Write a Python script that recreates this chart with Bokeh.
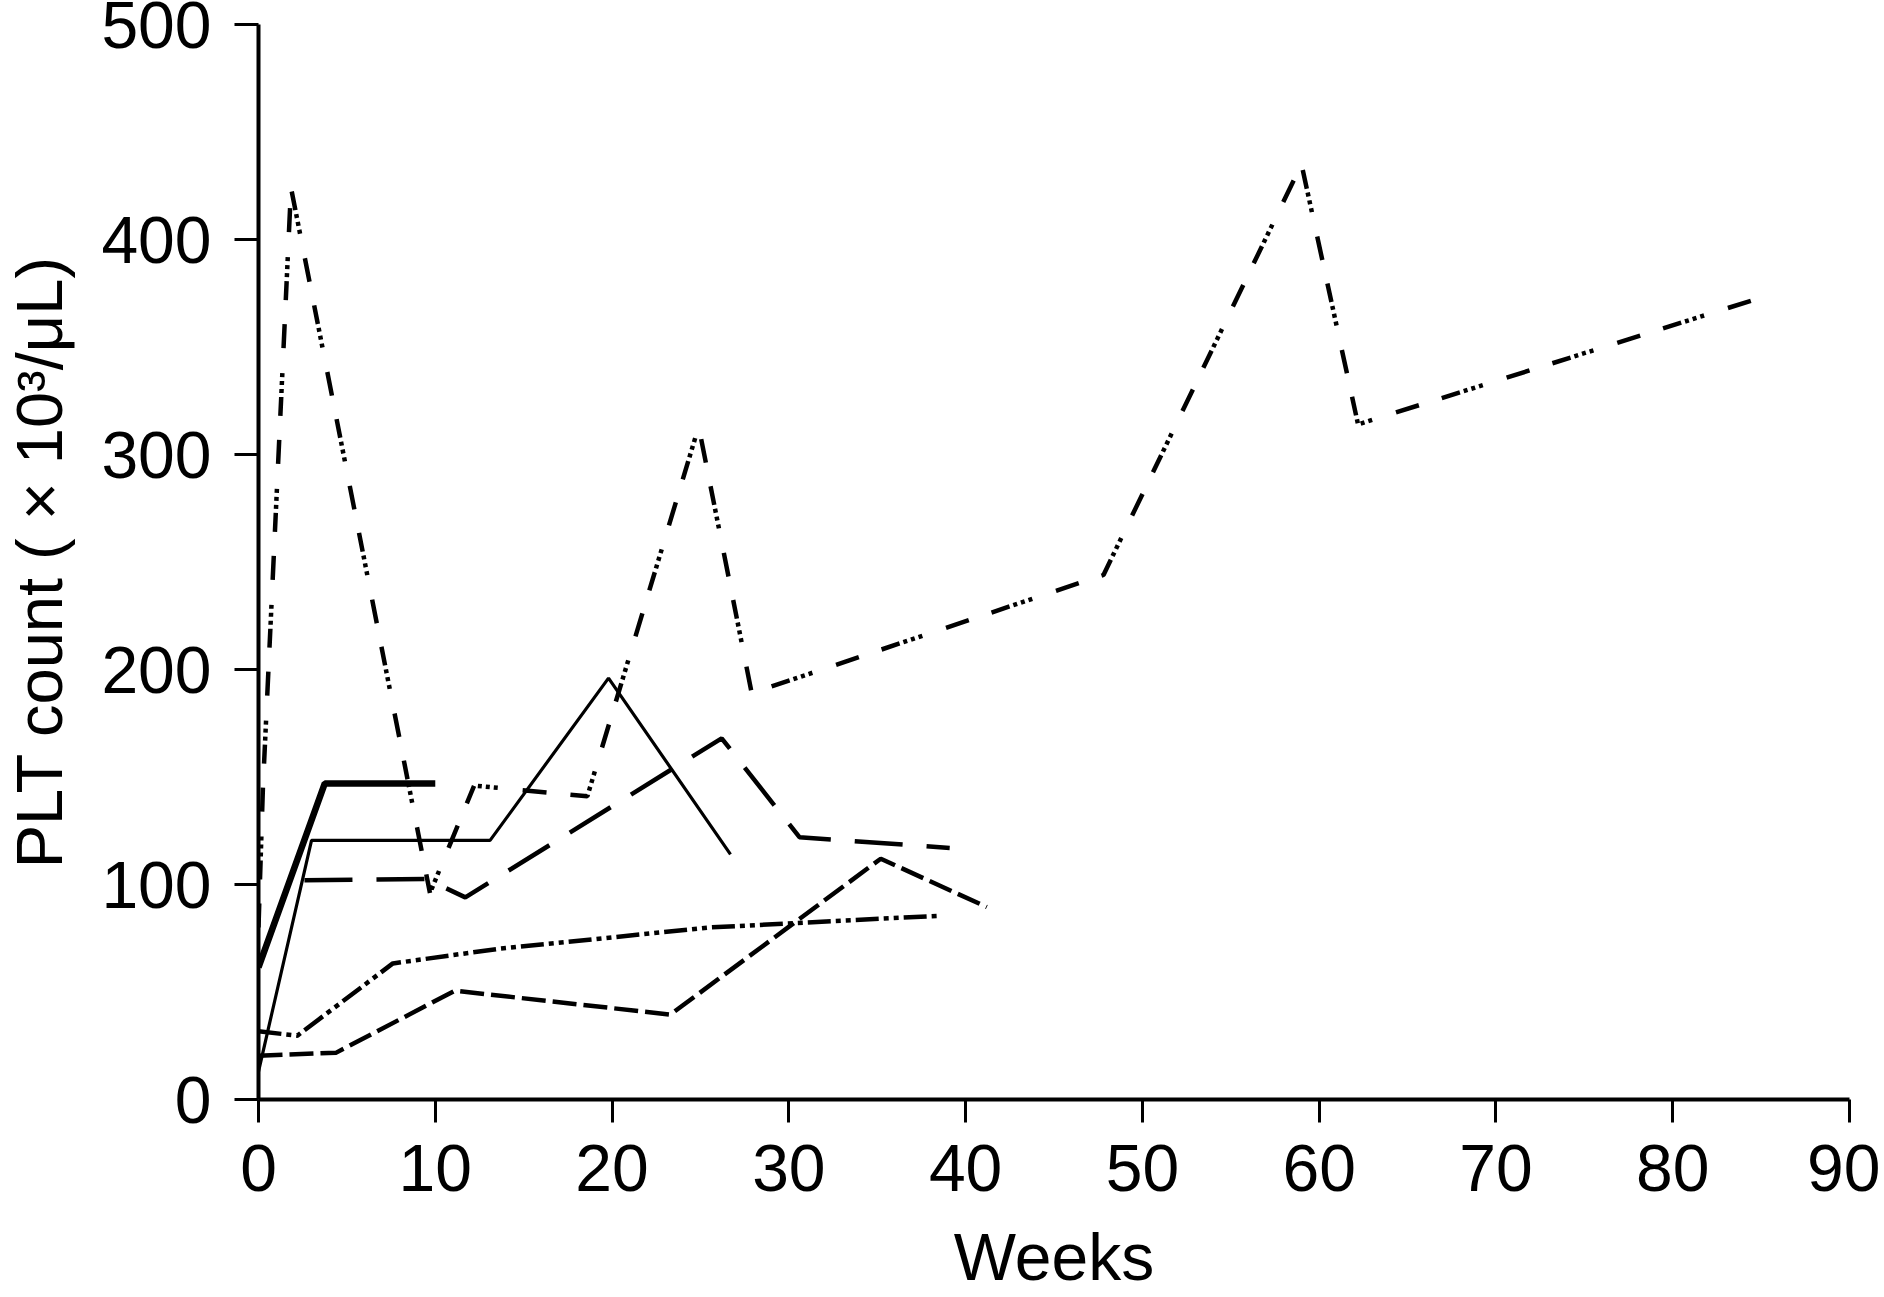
from bokeh.plotting import figure
from bokeh.models import Range1d, FixedTicker
from bokeh.embed import file_html
from bokeh.resources import INLINE

# ---- data ----
weeks_a = [0, 0.25, 1.84, 9.7, 12.2, 18.6, 24.9, 27.9, 47.8, 59.0, 62.2, 85.0]
plt_a = [80, 145, 424, 96, 146, 141, 313, 189, 244, 435, 314, 373]

weeks_b = [2.6, 9.5, 11.7, 26.2, 30.6, 39.1]
plt_b = [102, 102.6, 94, 168, 122, 117]

weeks_c = [0, 4.4, 11.1, 23.3, 35.2, 41.2]
plt_c = [20.4, 21.8, 50.6, 39.5, 112, 89.5]

weeks_d = [0, 2.2, 7.6, 13.5, 25.5, 38.6]
plt_d = [31.7, 29.7, 63.3, 70, 80, 85.5]

weeks_e = [0, 3.0, 13.1, 19.8, 26.7]
plt_e = [13, 120.5, 120.5, 196, 114]

weeks_f = [0, 3.75, 10.0]
plt_f = [61.5, 147, 147]

x_ticks = [0, 10, 20, 30, 40, 50, 60, 70, 80, 90]
y_ticks = [0, 100, 200, 300, 400, 500]

x_title = "Weeks"
y_title = "PLT count ( \u00d7 10\u00b3/\u03bcL)"

FONT = "Liberation Sans"

p = figure(width=1880, height=1297,
           x_range=Range1d(0, 90), y_range=Range1d(0, 500),
           output_backend="svg", toolbar_location=None,
           min_border_left=258, min_border_right=31,
           min_border_top=24, min_border_bottom=198)

p.grid.visible = False
p.outline_line_color = None
p.background_fill_color = "white"
p.border_fill_color = "white"

series = [
    (weeks_a, plt_a, 4.5, "24 24 19 4 4 4 4 4 4 25"),
    (weeks_b, plt_b, 4.5, "48 24"),
    (weeks_c, plt_c, 4.5, "24 7"),
    (weeks_d, plt_d, 4.5, "23 5 5 5 5 5"),
    (weeks_e, plt_e, 3.2, "solid"),
    (weeks_f, plt_f, 6.5, "solid"),
]
for xs, ys, lw, dash in series:
    p.line(xs, ys, line_color="black", line_width=lw, line_dash=dash)

for ax in (p.xaxis[0], p.yaxis[0]):
    ax.axis_line_width = 4
    ax.axis_line_color = "black"
    ax.major_tick_line_width = 3
    ax.major_tick_line_color = "black"
    ax.major_tick_in = 0
    ax.minor_tick_line_color = None
    ax.major_label_text_font = FONT
    ax.major_label_text_font_size = "66px"
    ax.major_label_text_color = "black"
    ax.axis_label_text_font = FONT
    ax.axis_label_text_font_style = "normal"
    ax.axis_label_text_color = "black"

p.xaxis.ticker = FixedTicker(ticks=x_ticks)
p.yaxis.ticker = FixedTicker(ticks=y_ticks)
p.xaxis.major_tick_out = 23
p.yaxis.major_tick_out = 24
p.xaxis.major_label_standoff = 22
p.yaxis.major_label_standoff = 23

p.xaxis.axis_label = x_title
p.yaxis.axis_label = y_title
p.xaxis.axis_label_text_font_size = "66px"
p.yaxis.axis_label_text_font_size = "65px"
p.xaxis.axis_label_standoff = 26
p.yaxis.axis_label_standoff = 22

open("out.html", "w").write(file_html(p, INLINE))
